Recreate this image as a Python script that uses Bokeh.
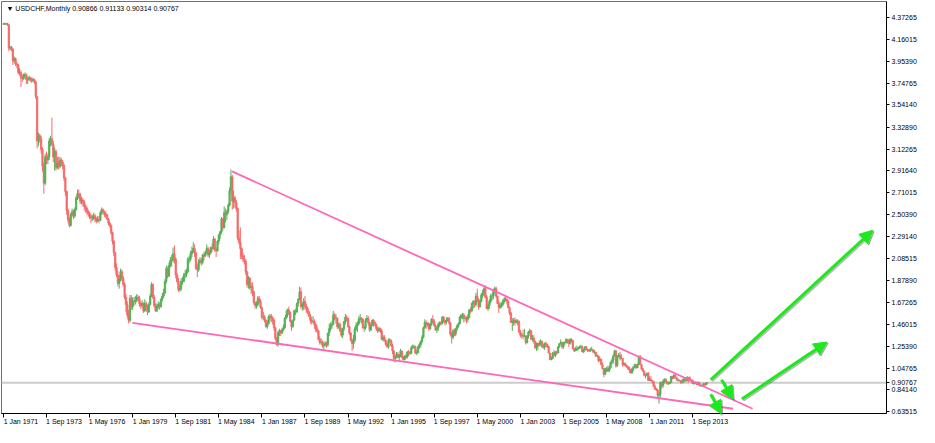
import numpy as np
import pandas as pd
from bokeh.plotting import figure
from bokeh.models import (ColumnDataSource, FixedTicker, Range1d, Label, Arrow,
                          NormalHead, Span, NumeralTickFormatter, LinearAxis)
from bokeh.embed import file_html
from bokeh.resources import INLINE

# ---------------- data (USDCHF monthly, Jan 1971 .. Aug 2014) ----------------
first_open = 4.31
closes = [
    4.31, 4.31, 4.31, 4.30, 4.08, 4.09, 4.07, 3.96, 3.98, 3.93, 3.92, 3.85,  # 1971
    3.85, 3.80, 3.79, 3.82, 3.83, 3.78, 3.78, 3.80, 3.79, 3.77, 3.78, 3.76,  # 1972
    3.62, 3.20, 3.25, 3.22, 3.12, 2.96, 2.80, 3.05, 3.02, 3.05, 3.20, 3.22,  # 1973
    3.17, 3.05, 3.10, 2.95, 2.99, 2.96, 3.02, 3.00, 2.97, 2.85, 2.72, 2.54,  # 1974
    2.45, 2.40, 2.50, 2.53, 2.49, 2.55, 2.66, 2.70, 2.69, 2.63, 2.64, 2.62,  # 1975
    2.58, 2.56, 2.53, 2.51, 2.49, 2.47, 2.47, 2.49, 2.46, 2.44, 2.46, 2.45,  # 1976
    2.52, 2.55, 2.53, 2.51, 2.50, 2.46, 2.42, 2.40, 2.33, 2.25, 2.14, 2.00,  # 1977
    1.93, 1.85, 1.89, 1.96, 1.90, 1.84, 1.72, 1.65, 1.55, 1.50, 1.71, 1.63,  # 1978
    1.68, 1.68, 1.69, 1.72, 1.71, 1.66, 1.64, 1.66, 1.59, 1.66, 1.62, 1.58,  # 1979
    1.65, 1.73, 1.84, 1.72, 1.64, 1.59, 1.63, 1.65, 1.63, 1.70, 1.73, 1.76,  # 1980
    1.87, 1.99, 1.92, 2.02, 2.07, 2.07, 2.13, 2.08, 1.93, 1.87, 1.79, 1.80,  # 1981
    1.87, 1.87, 1.93, 1.94, 1.96, 2.08, 2.08, 2.13, 2.15, 2.18, 2.14, 1.99,  # 1982
    1.98, 2.05, 2.07, 2.05, 2.12, 2.11, 2.14, 2.18, 2.12, 2.14, 2.19, 2.18,  # 1983
    2.27, 2.17, 2.16, 2.25, 2.31, 2.34, 2.46, 2.38, 2.52, 2.50, 2.53, 2.59,  # 1984
    2.73, 2.86, 2.63, 2.66, 2.62, 2.56, 2.28, 2.24, 2.18, 2.11, 2.08, 2.06,  # 1985
    1.96, 1.84, 1.90, 1.81, 1.82, 1.77, 1.67, 1.64, 1.65, 1.71, 1.68, 1.62,  # 1986
    1.53, 1.53, 1.50, 1.44, 1.47, 1.53, 1.54, 1.52, 1.50, 1.43, 1.33, 1.27,  # 1987
    1.38, 1.40, 1.38, 1.41, 1.43, 1.52, 1.55, 1.60, 1.58, 1.49, 1.44, 1.50,  # 1988
    1.59, 1.58, 1.66, 1.70, 1.77, 1.63, 1.65, 1.68, 1.63, 1.61, 1.58, 1.54,  # 1989
    1.50, 1.49, 1.49, 1.46, 1.42, 1.40, 1.32, 1.29, 1.29, 1.26, 1.27, 1.28,  # 1990
    1.27, 1.38, 1.42, 1.45, 1.46, 1.55, 1.52, 1.52, 1.44, 1.46, 1.40, 1.36,  # 1991
    1.42, 1.49, 1.53, 1.52, 1.44, 1.38, 1.31, 1.28, 1.31, 1.42, 1.45, 1.47,  # 1992
    1.51, 1.52, 1.51, 1.43, 1.43, 1.50, 1.52, 1.48, 1.41, 1.45, 1.50, 1.48,  # 1993
    1.46, 1.42, 1.40, 1.42, 1.40, 1.32, 1.34, 1.31, 1.27, 1.25, 1.31, 1.31,  # 1994
    1.26, 1.21, 1.14, 1.15, 1.18, 1.15, 1.17, 1.21, 1.15, 1.13, 1.16, 1.15,  # 1995
    1.20, 1.19, 1.19, 1.24, 1.25, 1.25, 1.19, 1.19, 1.25, 1.27, 1.30, 1.34,  # 1996
    1.43, 1.48, 1.46, 1.47, 1.42, 1.46, 1.51, 1.49, 1.45, 1.41, 1.43, 1.46,  # 1997
    1.48, 1.47, 1.53, 1.50, 1.48, 1.50, 1.52, 1.48, 1.37, 1.34, 1.40, 1.37,  # 1998
    1.42, 1.45, 1.47, 1.53, 1.55, 1.55, 1.52, 1.52, 1.51, 1.53, 1.60, 1.59,  # 1999
    1.66, 1.68, 1.65, 1.73, 1.69, 1.63, 1.68, 1.74, 1.76, 1.80, 1.72, 1.61,  # 2000
    1.64, 1.68, 1.73, 1.73, 1.79, 1.80, 1.73, 1.66, 1.62, 1.64, 1.65, 1.68,  # 2001
    1.70, 1.70, 1.68, 1.62, 1.57, 1.48, 1.48, 1.50, 1.48, 1.49, 1.49, 1.39,  # 2002
    1.36, 1.36, 1.35, 1.35, 1.29, 1.35, 1.39, 1.40, 1.32, 1.33, 1.30, 1.24,  # 2003
    1.26, 1.28, 1.27, 1.30, 1.25, 1.25, 1.28, 1.27, 1.25, 1.19, 1.13, 1.14,  # 2004
    1.19, 1.17, 1.20, 1.19, 1.25, 1.28, 1.29, 1.25, 1.29, 1.29, 1.32, 1.31,  # 2005
    1.28, 1.32, 1.31, 1.23, 1.21, 1.22, 1.23, 1.24, 1.25, 1.25, 1.20, 1.22,  # 2006
    1.25, 1.22, 1.22, 1.21, 1.22, 1.22, 1.20, 1.20, 1.16, 1.16, 1.12, 1.13,  # 2007
    1.08, 1.04, 0.99, 1.04, 1.04, 1.02, 1.05, 1.10, 1.12, 1.16, 1.21, 1.07,  # 2008
    1.16, 1.17, 1.14, 1.14, 1.08, 1.09, 1.07, 1.06, 1.04, 1.03, 1.00, 1.04,  # 2009
    1.06, 1.08, 1.05, 1.08, 1.16, 1.08, 1.04, 1.02, 0.98, 0.98, 1.00, 0.93,  # 2010
    0.94, 0.93, 0.92, 0.87, 0.85, 0.84, 0.79, 0.80, 0.91, 0.88, 0.92, 0.94,  # 2011
    0.92, 0.90, 0.90, 0.91, 0.97, 0.95, 0.98, 0.96, 0.94, 0.93, 0.93, 0.92,  # 2012
    0.91, 0.94, 0.95, 0.93, 0.96, 0.95, 0.93, 0.93, 0.90, 0.91, 0.91, 0.89,  # 2013
    0.91, 0.88, 0.88, 0.88, 0.90, 0.887, 0.90866, 0.90767,                   # 2014
]
highs = [
    4.32, 4.32, 4.32, 4.32, 4.31, 4.10, 4.10, 4.08, 4.00, 3.99, 3.95, 3.93,
    3.89, 3.87, 3.83, 3.84, 3.85, 3.84, 3.81, 3.82, 3.81, 3.80, 3.80, 3.79,
    3.77, 3.62, 3.28, 3.27, 3.25, 3.14, 3.00, 3.08, 3.10, 3.08, 3.23, 3.25,
    3.42, 3.20, 3.14, 3.12, 3.05, 3.05, 3.05, 3.04, 3.02, 2.98, 2.86, 2.73,
    2.56, 2.48, 2.52, 2.56, 2.55, 2.57, 2.68, 2.74, 2.74, 2.71, 2.67, 2.66,
    2.64, 2.60, 2.58, 2.55, 2.53, 2.51, 2.50, 2.52, 2.51, 2.48, 2.49, 2.49,
    2.54, 2.57, 2.56, 2.54, 2.53, 2.51, 2.47, 2.44, 2.41, 2.34, 2.26, 2.15,
    2.04, 1.97, 1.93, 1.99, 1.98, 1.92, 1.86, 1.75, 1.68, 1.60, 1.74, 1.74,
    1.72, 1.72, 1.73, 1.75, 1.74, 1.73, 1.68, 1.69, 1.67, 1.70, 1.68, 1.65,
    1.67, 1.75, 1.86, 1.85, 1.74, 1.66, 1.66, 1.68, 1.67, 1.71, 1.76, 1.80,
    1.89, 2.02, 2.01, 2.05, 2.10, 2.12, 2.19, 2.21, 2.10, 1.95, 1.90, 1.84,
    1.90, 1.91, 1.95, 1.98, 1.99, 2.10, 2.11, 2.16, 2.20, 2.24, 2.22, 2.15,
    2.03, 2.08, 2.10, 2.09, 2.13, 2.15, 2.16, 2.22, 2.20, 2.17, 2.20, 2.23,
    2.30, 2.28, 2.19, 2.26, 2.32, 2.35, 2.48, 2.47, 2.58, 2.56, 2.55, 2.61,
    2.76, 2.93, 2.88, 2.73, 2.68, 2.64, 2.57, 2.35, 2.38, 2.19, 2.14, 2.12,
    2.08, 1.97, 1.92, 1.91, 1.86, 1.86, 1.78, 1.68, 1.68, 1.73, 1.73, 1.70,
    1.63, 1.58, 1.55, 1.51, 1.50, 1.55, 1.56, 1.56, 1.54, 1.52, 1.44, 1.34,
    1.40, 1.42, 1.41, 1.43, 1.46, 1.53, 1.59, 1.61, 1.63, 1.58, 1.50, 1.51,
    1.60, 1.61, 1.67, 1.71, 1.82, 1.81, 1.67, 1.71, 1.73, 1.66, 1.63, 1.59,
    1.56, 1.53, 1.54, 1.51, 1.48, 1.45, 1.41, 1.35, 1.33, 1.31, 1.30, 1.30,
    1.30, 1.38, 1.47, 1.48, 1.49, 1.59, 1.57, 1.56, 1.53, 1.48, 1.48, 1.43,
    1.43, 1.49, 1.56, 1.55, 1.52, 1.45, 1.39, 1.33, 1.36, 1.44, 1.48, 1.49,
    1.54, 1.56, 1.53, 1.52, 1.45, 1.52, 1.55, 1.54, 1.49, 1.47, 1.51, 1.51,
    1.49, 1.47, 1.44, 1.44, 1.43, 1.42, 1.36, 1.36, 1.32, 1.29, 1.33, 1.33,
    1.32, 1.28, 1.22, 1.17, 1.20, 1.20, 1.18, 1.23, 1.21, 1.16, 1.17, 1.18,
    1.21, 1.22, 1.21, 1.26, 1.27, 1.27, 1.26, 1.22, 1.26, 1.29, 1.31, 1.36,
    1.44, 1.51, 1.50, 1.48, 1.48, 1.47, 1.52, 1.55, 1.51, 1.46, 1.44, 1.48,
    1.49, 1.49, 1.54, 1.54, 1.50, 1.53, 1.53, 1.53, 1.48, 1.39, 1.42, 1.42,
    1.43, 1.46, 1.48, 1.54, 1.56, 1.57, 1.57, 1.54, 1.54, 1.56, 1.60, 1.62,
    1.67, 1.69, 1.69, 1.76, 1.80, 1.71, 1.70, 1.76, 1.79, 1.83, 1.83, 1.74,
    1.66, 1.70, 1.75, 1.76, 1.80, 1.82, 1.82, 1.73, 1.69, 1.67, 1.67, 1.70,
    1.72, 1.73, 1.71, 1.69, 1.63, 1.58, 1.52, 1.52, 1.53, 1.51, 1.51, 1.50,
    1.41, 1.38, 1.41, 1.42, 1.36, 1.36, 1.40, 1.42, 1.41, 1.36, 1.36, 1.31,
    1.29, 1.29, 1.31, 1.32, 1.31, 1.28, 1.29, 1.30, 1.28, 1.26, 1.19, 1.16,
    1.20, 1.22, 1.21, 1.21, 1.25, 1.28, 1.32, 1.30, 1.29, 1.30, 1.33, 1.32,
    1.32, 1.33, 1.33, 1.31, 1.24, 1.25, 1.26, 1.25, 1.26, 1.27, 1.26, 1.23,
    1.25, 1.25, 1.23, 1.23, 1.24, 1.25, 1.23, 1.22, 1.20, 1.18, 1.17, 1.16,
    1.14, 1.10, 1.05, 1.05, 1.06, 1.07, 1.07, 1.11, 1.14, 1.18, 1.22, 1.22,
    1.17, 1.19, 1.20, 1.18, 1.14, 1.10, 1.10, 1.08, 1.07, 1.06, 1.04, 1.05,
    1.06, 1.09, 1.08, 1.09, 1.16, 1.17, 1.08, 1.05, 1.02, 0.99, 1.00, 1.01,
    0.97, 0.97, 0.93, 0.92, 0.89, 0.86, 0.85, 0.82, 0.92, 0.92, 0.94, 0.95,
    0.95, 0.92, 0.92, 0.92, 0.97, 0.97, 0.99, 0.99, 0.96, 0.95, 0.94, 0.93,
    0.94, 0.95, 0.96, 0.96, 0.97, 0.96, 0.97, 0.94, 0.94, 0.92, 0.92, 0.92,
    0.92, 0.91, 0.89, 0.89, 0.90, 0.90, 0.91, 0.91133,
]
lows = [
    4.30, 4.30, 4.30, 4.29, 4.05, 4.06, 4.05, 3.92, 3.94, 3.91, 3.89, 3.83,
    3.82, 3.71, 3.76, 3.78, 3.80, 3.74, 3.74, 3.77, 3.76, 3.75, 3.76, 3.74,
    3.60, 3.13, 3.15, 3.18, 3.08, 2.91, 2.70, 2.78, 2.98, 2.98, 3.02, 3.15,
    3.15, 3.00, 2.92, 2.92, 2.93, 2.93, 2.94, 2.96, 2.93, 2.82, 2.68, 2.50,
    2.42, 2.38, 2.39, 2.48, 2.46, 2.47, 2.54, 2.64, 2.65, 2.60, 2.60, 2.58,
    2.54, 2.52, 2.50, 2.48, 2.46, 2.42, 2.44, 2.45, 2.43, 2.42, 2.43, 2.42,
    2.44, 2.50, 2.50, 2.48, 2.47, 2.45, 2.40, 2.38, 2.31, 2.22, 2.11, 1.97,
    1.91, 1.82, 1.80, 1.87, 1.87, 1.82, 1.70, 1.58, 1.52, 1.47, 1.48, 1.60,
    1.60, 1.64, 1.65, 1.67, 1.68, 1.63, 1.61, 1.62, 1.57, 1.58, 1.59, 1.55,
    1.57, 1.64, 1.72, 1.70, 1.62, 1.58, 1.58, 1.61, 1.60, 1.62, 1.68, 1.71,
    1.75, 1.85, 1.90, 1.91, 2.00, 2.01, 2.05, 2.04, 1.90, 1.85, 1.77, 1.77,
    1.78, 1.84, 1.86, 1.90, 1.91, 1.95, 2.04, 2.06, 2.10, 2.14, 2.10, 1.98,
    1.91, 1.96, 2.03, 2.02, 2.03, 2.07, 2.10, 2.13, 2.10, 2.09, 2.13, 2.15,
    2.17, 2.15, 2.10, 2.15, 2.22, 2.27, 2.32, 2.35, 2.37, 2.43, 2.45, 2.51,
    2.58, 2.70, 2.55, 2.56, 2.57, 2.53, 2.26, 2.22, 2.08, 2.08, 2.05, 2.03,
    1.93, 1.81, 1.80, 1.79, 1.75, 1.73, 1.65, 1.61, 1.61, 1.63, 1.66, 1.61,
    1.51, 1.50, 1.48, 1.43, 1.42, 1.46, 1.49, 1.48, 1.46, 1.40, 1.31, 1.26,
    1.25, 1.35, 1.35, 1.37, 1.40, 1.42, 1.51, 1.53, 1.55, 1.48, 1.40, 1.43,
    1.50, 1.55, 1.57, 1.63, 1.69, 1.61, 1.59, 1.60, 1.60, 1.57, 1.56, 1.53,
    1.47, 1.46, 1.47, 1.42, 1.39, 1.38, 1.31, 1.27, 1.27, 1.24, 1.22, 1.25,
    1.24, 1.25, 1.35, 1.40, 1.42, 1.46, 1.50, 1.47, 1.42, 1.42, 1.39, 1.34,
    1.33, 1.40, 1.46, 1.49, 1.43, 1.36, 1.30, 1.21, 1.23, 1.29, 1.40, 1.39,
    1.45, 1.48, 1.47, 1.42, 1.39, 1.41, 1.48, 1.45, 1.39, 1.40, 1.45, 1.44,
    1.44, 1.40, 1.38, 1.39, 1.38, 1.31, 1.30, 1.30, 1.26, 1.24, 1.23, 1.29,
    1.25, 1.18, 1.11, 1.10, 1.14, 1.14, 1.12, 1.15, 1.14, 1.12, 1.12, 1.13,
    1.14, 1.16, 1.17, 1.18, 1.23, 1.23, 1.18, 1.17, 1.19, 1.23, 1.24, 1.28,
    1.33, 1.42, 1.42, 1.44, 1.40, 1.41, 1.45, 1.47, 1.44, 1.40, 1.38, 1.40,
    1.44, 1.45, 1.46, 1.48, 1.45, 1.46, 1.49, 1.46, 1.35, 1.28, 1.32, 1.35,
    1.35, 1.40, 1.43, 1.46, 1.51, 1.51, 1.48, 1.49, 1.47, 1.48, 1.52, 1.57,
    1.58, 1.61, 1.62, 1.63, 1.67, 1.60, 1.62, 1.67, 1.71, 1.73, 1.71, 1.61,
    1.59, 1.61, 1.66, 1.69, 1.70, 1.75, 1.71, 1.66, 1.57, 1.61, 1.62, 1.63,
    1.66, 1.68, 1.65, 1.62, 1.55, 1.48, 1.40, 1.45, 1.45, 1.47, 1.45, 1.38,
    1.34, 1.33, 1.32, 1.34, 1.27, 1.28, 1.33, 1.37, 1.32, 1.30, 1.28, 1.23,
    1.21, 1.22, 1.25, 1.26, 1.24, 1.23, 1.22, 1.24, 1.24, 1.19, 1.13, 1.12,
    1.13, 1.16, 1.15, 1.17, 1.19, 1.24, 1.27, 1.23, 1.23, 1.27, 1.28, 1.28,
    1.25, 1.27, 1.29, 1.23, 1.20, 1.21, 1.21, 1.22, 1.23, 1.23, 1.20, 1.19,
    1.21, 1.22, 1.20, 1.20, 1.20, 1.22, 1.19, 1.18, 1.16, 1.15, 1.10, 1.11,
    1.08, 1.04, 0.96, 0.98, 1.01, 1.01, 1.01, 1.04, 1.08, 1.09, 1.16, 1.05,
    1.06, 1.15, 1.12, 1.13, 1.06, 1.07, 1.06, 1.05, 1.03, 1.00, 1.00, 1.00,
    1.02, 1.05, 1.04, 1.05, 1.08, 1.08, 1.03, 1.01, 0.97, 0.95, 0.97, 0.93,
    0.93, 0.92, 0.90, 0.87, 0.84, 0.83, 0.76, 0.71, 0.77, 0.85, 0.86, 0.90,
    0.91, 0.89, 0.89, 0.90, 0.91, 0.94, 0.95, 0.96, 0.93, 0.92, 0.92, 0.90,
    0.90, 0.91, 0.92, 0.91, 0.92, 0.91, 0.92, 0.91, 0.90, 0.89, 0.90, 0.89,
    0.89, 0.88, 0.87, 0.87, 0.87, 0.88, 0.89, 0.90314,
]

header_text = "\u25BC USDCHF,Monthly  0.90866 0.91133 0.90314 0.90767"
current_price = 0.90767
date_labels = ["1 Jan 1971", "1 Sep 1973", "1 May 1976", "1 Jan 1979", "1 Sep 1981",
               "1 May 1984", "1 Jan 1987", "1 Sep 1989", "1 May 1992", "1 Jan 1995",
               "1 Sep 1997", "1 May 2000", "1 Jan 2003", "1 Sep 2005", "1 May 2008",
               "1 Jan 2011", "1 Sep 2013"]
price_ticks = [4.37265, 4.16015, 3.95390, 3.74765, 3.54140, 3.32890, 3.12265,
               2.91640, 2.71015, 2.50390, 2.29140, 2.08515, 1.87890, 1.67265,
               1.46015, 1.25390, 1.04765, 0.90767, 0.84140, 0.63515]

# trend lines (x in months since Jan 1971, y in price)
upper_trend_x = [169.8, 556.6]
upper_trend_y = [2.912, 0.662]
lower_trend_x = [95.8, 542.1]
lower_trend_y = [1.476, 0.662]
# arrows: start/end (months, price)
arrow_x0 = [525.4, 548.6, 533.4, 525.4]
arrow_y0 = [0.937, 0.754, 0.937, 0.800]
arrow_x1 = [645.9, 611.8, 542.1, 533.4]
arrow_y1 = [2.354, 1.294, 0.754, 0.615]

# ---------------- build ----------------
BULL = "#55b055"
BEAR = "#f66a6a"
FONT = "Liberation Sans"

c = np.array(closes, dtype=float)
o = np.r_[first_open, c[:-1]]
h = np.maximum(np.array(highs, dtype=float), np.maximum(o, c))
l = np.minimum(np.array(lows, dtype=float), np.minimum(o, c))
x = np.arange(len(c))
col = np.where(c >= o, BULL, BEAR)
src = ColumnDataSource(dict(x=x, h=h, l=l, top=np.maximum(o, c),
                            bot=np.minimum(o, c), col=col))

X0, X1 = -1.45, 656.0
Y0, Y1 = 0.617, 4.522

p = figure(width=919, height=427, x_range=Range1d(X0, X1), y_range=Range1d(Y0, Y1),
           y_axis_location="right", toolbar_location=None, output_backend="svg",
           min_border_left=1, min_border_top=1, min_border_right=0, min_border_bottom=10)
p.grid.visible = False
p.background_fill_color = "white"
p.border_fill_color = "white"
p.outline_line_color = "#707070"
p.outline_line_width = 1

# right price axis
ya = p.yaxis[0]
ya.ticker = FixedTicker(ticks=price_ticks)
ya.formatter = NumeralTickFormatter(format="0.00000")
ya.major_tick_out = 3
ya.major_tick_in = 0
ya.minor_tick_line_color = None
ya.major_label_standoff = 2
ya.major_label_text_font = FONT
ya.major_label_text_font_size = "7px"
ya.major_label_text_color = "black"
ya.axis_line_color = "black"

# bottom time axis: tick marks on the first axis, left-aligned labels on a second one
tick_idx = []
for s in date_labels:
    ts = pd.Timestamp(s)
    tick_idx.append((ts.year - 1971) * 12 + ts.month - 1)
xa = p.xaxis[0]
xa.ticker = FixedTicker(ticks=tick_idx)
xa.major_label_overrides = {t: "" for t in tick_idx}
xa.major_label_text_font_size = "1px"
xa.major_label_text_color = None
xa.major_label_standoff = 0
xa.major_tick_out = 4
xa.major_tick_in = 0
xa.minor_tick_line_color = None
xa.axis_line_color = "black"

label_pos = [t + 13 for t in tick_idx]
xl = LinearAxis(ticker=FixedTicker(ticks=label_pos),
                major_label_overrides={t: s for t, s in zip(label_pos, date_labels)},
                major_label_text_font=FONT, major_label_text_font_size="7px",
                major_label_text_color="black", major_label_standoff=0,
                major_tick_out=0, major_tick_in=0, major_tick_line_color=None,
                minor_tick_line_color=None, axis_line_color=None)
p.add_layout(xl, "below")

# current price line
p.add_layout(Span(location=current_price, dimension="width", line_color="#cccccc",
                  line_width=2, level="underlay"))

# candles
p.segment(x0="x", y0="l", x1="x", y1="h", line_color="col", line_width=1, source=src)
p.vbar(x="x", top="top", bottom="bot", width=1.0, fill_color="col",
       line_color="col", line_width=0.8, source=src)

# trend lines
p.line(upper_trend_x, upper_trend_y, line_color="#ff66b8", line_width=1.8)
p.line(lower_trend_x, lower_trend_y, line_color="#ff66b8", line_width=1.8)

# arrows (shadow + arrow)
for xs, ys, xe, ye in zip(arrow_x0, arrow_y0, arrow_x1, arrow_y1):
    p.add_layout(Arrow(end=NormalHead(size=13, fill_color="#555555", fill_alpha=0.4,
                                      line_color="#555555", line_alpha=0.4),
                       x_start=xs + 0.9, y_start=ys - 0.012, x_end=xe + 0.9, y_end=ye - 0.012,
                       line_color="#555555", line_alpha=0.4, line_width=3))
    p.add_layout(Arrow(end=NormalHead(size=13, fill_color="#1ee81e", line_color="#1ee81e"),
                       x_start=xs, y_start=ys, x_end=xe, y_end=ye,
                       line_color="#1ee81e", line_width=3))

# header
p.add_layout(Label(x=X0, y=Y1, x_offset=5, y_offset=-3, text=header_text,
                   text_font=FONT, text_font_size="7px", text_color="black",
                   text_baseline="top", text_align="left"))

open("out.html", "w").write(file_html(p, INLINE))
